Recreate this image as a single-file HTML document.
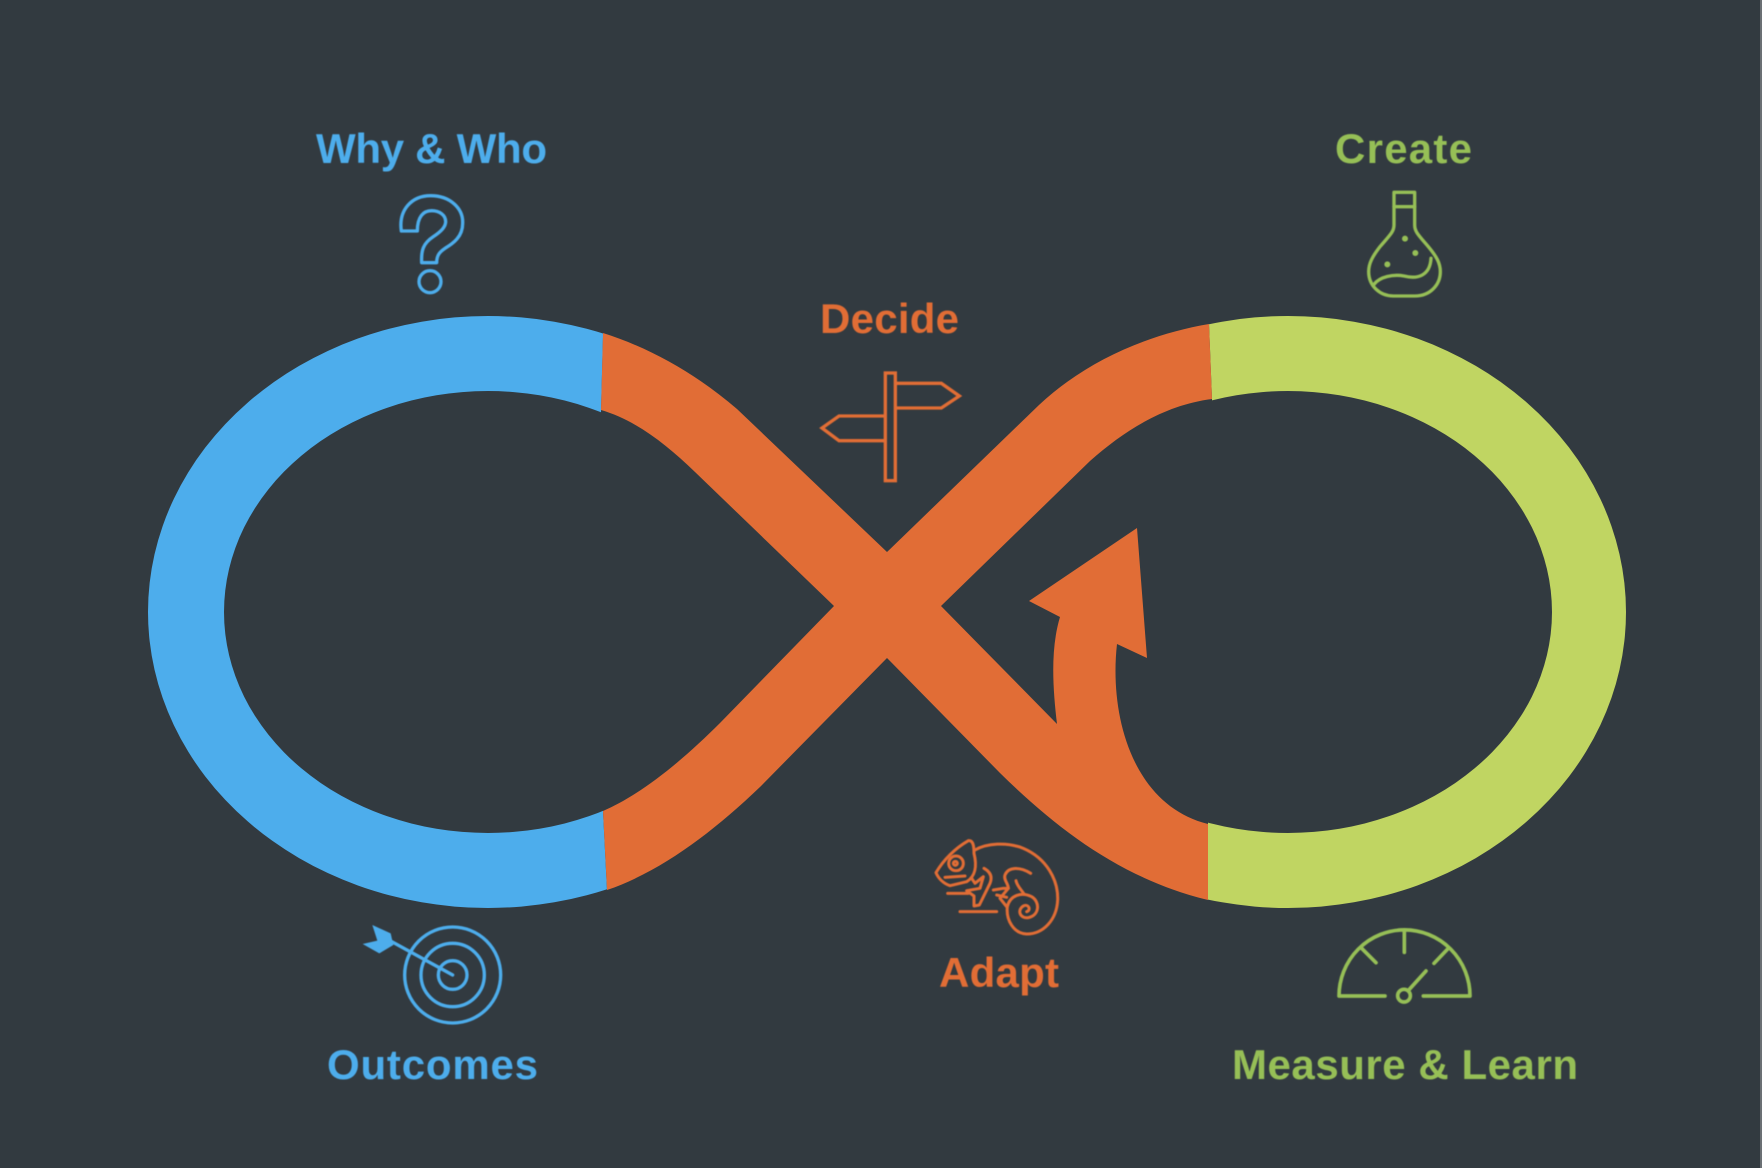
<!DOCTYPE html>
<html>
<head>
<meta charset="utf-8">
<title>Infinity loop</title>
<style>
html,body{margin:0;padding:0;background:#323a40;}
svg{display:block;}
text{font-family:"Liberation Sans",sans-serif;font-weight:700;font-size:42px;}
</style>
</head>
<body>
<svg width="1762" height="1168" viewBox="0 0 1762 1168" xmlns="http://www.w3.org/2000/svg">
<defs>
<clipPath id="cl"><polygon points="0,0 612,0 601,412 603,811 607,890 608,1168 0,1168"/></clipPath>
<clipPath id="cr"><polygon points="1196,0 1762,0 1762,1168 1208,1168 1208,823 1212,399"/></clipPath>
<filter id="soft" x="-5%" y="-5%" width="110%" height="110%"><feGaussianBlur stdDeviation="0.45"/></filter>
</defs>
<rect width="1762" height="1168" fill="#323a40"/>
<rect x="1760" y="0" width="2" height="1168" fill="#6b7074"/>

<!-- Blue lobe -->
<g clip-path="url(#cl)">
<path fill-rule="evenodd" fill="#4dadec" d="M148,612 A340,296 0 1 1 828,612 A340,296 0 1 1 148,612 Z M224,612 A264,221 0 1 0 752,612 A264,221 0 1 0 224,612 Z"/>
</g>
<!-- Green lobe -->
<g clip-path="url(#cr)">
<path fill-rule="evenodd" fill="#c0d562" d="M950,612 A338,296 0 1 1 1626,612 A338,296 0 1 1 950,612 Z M1024,612 A264,221 0 1 0 1552,612 A264,221 0 1 0 1024,612 Z"/>
</g>
<!-- Orange crossing + arrow -->
<path d="M603,333 C650,348 695,373 737,409 L887,552 L1039,405 C1085,362 1145,335 1209,324 L1212,399 C1165,405 1125,430 1090,461 L941,606 L1057,724 C1053,690 1050,650 1060,617 L1029,601 L1137,528 L1147,658 L1117,644 C1109,715 1132,805 1208,824 L1208,900 C1125,880 1060,832 1000,773 L887,658 L760,787 C712,833 660,872 607,890 L603,811 C640,795 680,763 720,723 L834,606 L695,472 C665,443 635,420 601,410 Z" fill="#e16d36"/>

<g filter="url(#soft)">
<!-- Labels -->
<text x="316" y="163" textLength="231" lengthAdjust="spacing" fill="#4dadec">Why &amp; Who</text>
<text x="1335" y="163" textLength="137" lengthAdjust="spacing" fill="#96bf57">Create</text>
<text x="820" y="333" textLength="139" lengthAdjust="spacing" fill="#e16d36">Decide</text>
<text x="939" y="987" textLength="120" lengthAdjust="spacing" fill="#e16d36">Adapt</text>
<text x="327" y="1079" textLength="211" lengthAdjust="spacing" fill="#4dadec">Outcomes</text>
<text x="1232" y="1079" textLength="346" lengthAdjust="spacing" fill="#96bf57">Measure &amp; Learn</text>

<!-- Question mark -->
<g transform="translate(280,100) scale(.33333)" fill="none" stroke="#4dadec" stroke-width="10" stroke-linejoin="round">
<path d="M364,393 C355,330 395,287 452,287 C510,287 550,325 548,370 C548,410 520,430 495,445 C480,455 470,465 470,488 L425,488 C423,450 430,430 460,410 C485,393 497,380 497,365 C497,345 478,332 455,332 C430,332 412,350 412,393 Z"/>
<circle cx="450" cy="545" r="33"/>
</g>

<!-- Flask -->
<g transform="translate(1280,100) scale(.33333)" fill="none" stroke="#96bf57" stroke-width="10" stroke-linejoin="round" stroke-linecap="round">
<rect x="342" y="277" width="62" height="43"/>
<path d="M342,320 L342,375 C342,395 330,405 300,440 C277,470 266,490 266,515 C266,558 300,588 340,588 L405,588 C450,588 481,555 481,515 C481,490 470,470 445,440 C415,405 404,395 404,375 L404,320"/>
<path d="M282,553 C300,530 340,522 372,528 C412,538 450,528 453,475"/>
<g fill="#96bf57" stroke="none">
<circle cx="375" cy="416" r="9"/>
<circle cx="406" cy="459" r="9"/>
<circle cx="322" cy="493" r="9"/>
</g>
</g>

<!-- Signpost -->
<g transform="translate(780,280) scale(.33333)" fill="none" stroke="#e16d36" stroke-width="10" stroke-linejoin="miter">
<rect x="316" y="279" width="30" height="323"/>
<path d="M346,310 L484,310 L538,348 L484,384 L346,384"/>
<path d="M316,408 L177,408 L126,444 L177,482 L316,482"/>
</g>

<!-- Chameleon -->
<g transform="translate(900,820) scale(.33333)" fill="none" stroke="#e16d36" stroke-width="9" stroke-linejoin="round" stroke-linecap="round">
<path d="M108,158 C130,120 165,85 205,62 C220,60 222,80 222,100 C232,140 225,170 200,185 L150,197 C130,190 115,175 108,158 Z"/>
<path d="M135,172 L195,168"/>
<circle cx="168" cy="130" r="22"/>
<circle cx="166" cy="130" r="6"/>
<path d="M225,90 C260,70 320,65 370,85 C440,115 475,180 473,240 C470,300 430,342 380,342 C340,340 318,300 322,260 C330,225 365,215 395,230 C420,245 420,285 385,293 C360,297 350,270 370,258 C385,250 395,270 380,275"/>
<path d="M392,160 C360,140 325,140 315,165 C310,180 325,190 325,205 L300,235 L320,260"/>
<path d="M348,182 C352,200 365,210 372,222"/>
<path d="M252,145 C270,155 278,170 270,190 L238,255 L222,258 L222,228 L200,212 L240,205 L250,170 L225,190 L215,175"/>
<path d="M280,210 L310,205 L325,205"/>
<path d="M143,220 L205,220"/>
<path d="M180,275 L290,275"/>
<path d="M290,225 L320,232"/>
</g>

<!-- Target -->
<g transform="translate(340,900) scale(.33333)" fill="none" stroke="#4dadec" stroke-width="10" stroke-linecap="round">
<circle cx="338" cy="225" r="144"/>
<circle cx="338" cy="225" r="95"/>
<circle cx="338" cy="225" r="43"/>
<path d="M338,225 L150,122"/>
<polygon points="97,75 152,100 160,135 118,160 68,132 112,122" fill="#4dadec" stroke="none"/>
</g>

<!-- Gauge -->
<g transform="translate(1220,910) scale(.33333)" fill="none" stroke="#96bf57" stroke-width="11" stroke-linecap="round" stroke-linejoin="round">
<path d="M495,258 L357,258 A196,198 0 0 1 750,258 L610,258"/>
<path d="M553,60 L553,127"/>
<path d="M425,115 L468,158"/>
<path d="M682,118 L642,160"/>
<path d="M618,183 L568,238"/>
<circle cx="552" cy="257" r="19"/>
</g>
</g>
</svg>
</body>
</html>
